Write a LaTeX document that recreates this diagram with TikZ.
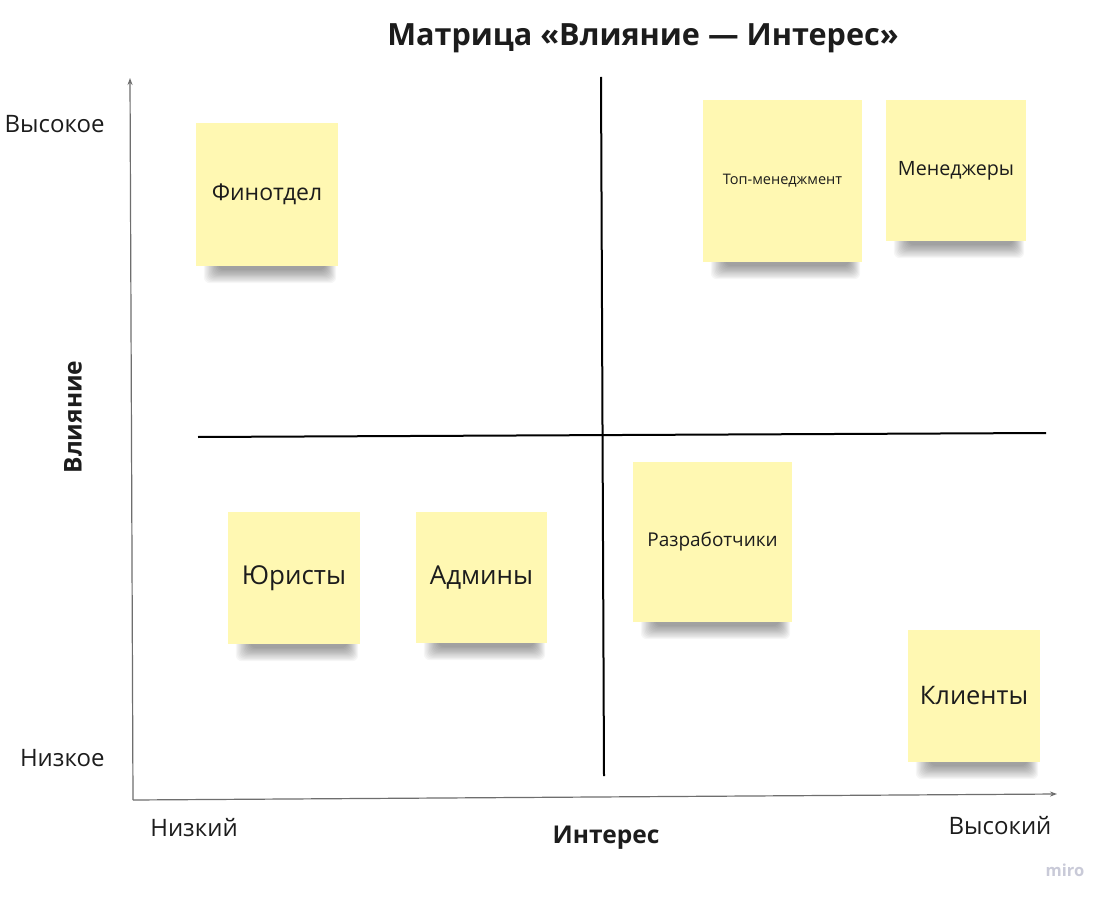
\documentclass[tikz,border=0pt]{standalone}
\usepackage{fontspec}
\setmainfont{Open Sans}
\usetikzlibrary{calc,arrows.meta}
\definecolor{stickyyellow}{HTML}{FFF8B2}
\definecolor{axisgray}{HTML}{6E6E6E}
\definecolor{textdark}{HTML}{1C1C1C}
\definecolor{mirogray}{HTML}{C9CAD8}
\newcommand{\notesh}[1]{%
  \begin{scope}
    \clip ($(#1.south west)+(-20,0)$) rectangle ($(#1.south east)+(20,30)$);
    \foreach \k in {0,...,11}{
      \fill[black, opacity=0.035, rounded corners=6pt]
        ($(#1.south west)+(8+\k*1.3,-6)$) rectangle ($(#1.south east)+(-2-\k*1.0,17-\k*1.2)$);
    }
  \end{scope}}
\begin{document}
\begin{tikzpicture}[x=1pt,y=-1pt,
  sticky/.style={fill=stickyyellow, inner sep=0pt, align=center, text=textdark},
  axislabel/.style={text=textdark, font=\fontsize{24}{28}\selectfont},
  axistitle/.style={text=textdark, font=\bfseries\fontsize{24.5}{28}\selectfont},
  quadline/.style={black, line width=2pt},
  axisline/.style={axisgray, line width=1.2pt, -{Stealth[length=7pt,width=5pt]}}]
\useasboundingbox (0,0) rectangle (1108,901);
\fill[white] (0,0) rectangle (1108,901);

% title
\node[text=textdark, font=\bfseries\fontsize{30.6}{34}\selectfont] (title) at (643,38) {Матрица «Влияние — Интерес»};

% axes
\coordinate (origin) at (133,800);
\coordinate (ytip) at (130,78);
\coordinate (xtip) at (1057,794);
\draw[axisline] (origin) -- (ytip);
\draw[axisline] (origin) -- (xtip);

% quadrant lines
\coordinate (vtop) at (601,77);
\coordinate (vbot) at (604,776);
\coordinate (hleft) at (198,437);
\coordinate (hright) at (1046,433);
\draw[quadline] (vtop) -- (vbot);
\draw[quadline] (hleft) -- (hright);

% axis labels
\node[axislabel, anchor=east] (yhigh) at (108,124) {Высокое};
\node[axislabel, anchor=east] (ylow) at (108,758) {Низкое};
\node[axislabel] (xlow) at (194,828) {Низкий};
\node[axislabel] (xhigh) at (1000,826) {Высокий};
\node[axistitle] (xtitle) at (606,838) {Интерес};
\node[axistitle, rotate=90] (ytitle) at (73,417) {Влияние};

% sticky notes
\node[sticky, minimum width=142pt, minimum height=143pt, font=\fontsize{23}{27}\selectfont] (fin) at (267,194.5) {Финотдел};
\node[sticky, minimum width=159pt, minimum height=162pt, font=\fontsize{14.5}{18}\selectfont] (top) at (782.5,181) {Топ-менеджмент};
\node[sticky, minimum width=140pt, minimum height=141pt, font=\fontsize{19.7}{23}\selectfont] (man) at (956,170.5) {Менеджеры};
\node[sticky, minimum width=132pt, minimum height=132pt, font=\fontsize{26}{30}\selectfont] (jur) at (294,578) {Юристы};
\node[sticky, minimum width=131pt, minimum height=131pt, font=\fontsize{26}{30}\selectfont] (adm) at (481.5,577.5) {Админы};
\node[sticky, minimum width=159pt, minimum height=160pt, font=\fontsize{19}{23}\selectfont] (dev) at (712.5,542) {Разработчики};
\node[sticky, minimum width=132pt, minimum height=132pt, font=\fontsize{25.5}{30}\selectfont] (cli) at (974,696) {Клиенты};

\notesh{fin}
\notesh{top}
\notesh{man}
\notesh{jur}
\notesh{adm}
\notesh{dev}
\notesh{cli}

% watermark
\node[text=mirogray, font=\bfseries\fontsize{16.5}{19}\selectfont] (miro) at (1065,870) {miro};
\end{tikzpicture}
\end{document}
